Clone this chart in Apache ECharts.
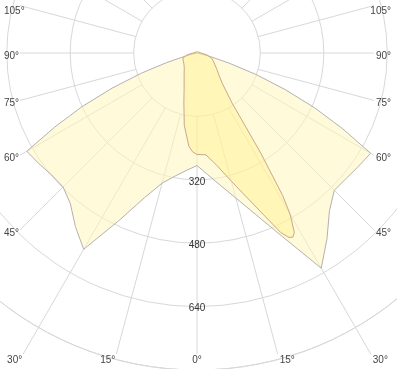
<!DOCTYPE html>
<html><head><meta charset="utf-8">
<script src="https://cdn.jsdelivr.net/npm/echarts@6/dist/echarts.min.js"></script>
<style>html,body{margin:0;padding:0;background:#fff}#c{width:397px;height:369px}</style>
</head><body><div id="c"></div>
<script>
// Signed gamma angles: negative = left half, positive = right half, 0 = nadir (bottom)
const wideAngles  = [-180,-150,-120,-90,-80,-77.5,-75,-72.5,-70,-67.5,-65,-62.5,-60,-55,-50,-45,-40,-35,-30,-25,-20,-15,-10,-5,0,5,10,15,20,25,30,35,40,45,50,55,60,62.5,65,67.5,70,72.5,75,77.5,80,90,120,150,180];
const wideValues  = [0,0,0,3,5,12,32,80,152,232,320,405,496,487,479,478,497,535,572,467,389,340,315,297,284,308,339,379,434,512,627,572,520,490,492,498,506,415,328,240,158,85,35,12,5,3,0,0,0];
const narrowAngles = [-180,-120,-90,-80,-70,-60,-50,-40,-30,-20,-15,-10,-5,-2.5,0,5,10,15,20,25,26.5,27.5,28.5,30,31,32.5,35,40,45,50,60,70,80,90,120,180];
const narrowValues = [3,5,10,25,38,40,43,50,65,95,128,185,236,250,256,258,288,335,400,500,520,524,515,470,420,300,155,98,78,66,50,40,25,10,5,3];
const radiusTickLabels = [320,480,640];
const angleTickLabels = [-105,-90,-75,-60,-45,-30,-15,0,15,30,45,60,75,90,105];
const spokeAngles = [0,15,30,45,60,75,90,105,120,135,150,165,180,195,210,225,240,255,270,285,300,315,330,345];

const toAxisAngle = a => (a < 0 ? a + 360 : a);
const wideData = wideAngles.map((a, i) => [wideValues[i], toAxisAngle(a)]);
const narrowData = narrowAngles.map((a, i) => [narrowValues[i], toAxisAngle(a)]);

const GRID = '#d8d8d8';
const FONT = 'Liberation Sans, Arial, sans-serif';

const chart = echarts.init(document.getElementById('c'), null, {renderer: 'canvas'});
chart.setOption({
  animation: false,
  backgroundColor: '#fff',
  polar: {center: [197, 53], radius: 317},
  angleAxis: {
    type: 'value', min: 0, max: 360, startAngle: 270, clockwise: false,
    axisLine: {show: true, lineStyle: {color: GRID, width: 1}},
    axisTick: {show: false}, axisLabel: {show: false}, splitLine: {show: false}
  },
  radiusAxis: {
    type: 'value', min: 0, max: 800, interval: 160,
    axisLine: {show: false}, axisTick: {show: false}, axisLabel: {show: false},
    splitLine: {show: true, lineStyle: {color: GRID, width: 1}}
  },
  series: [
    {type: 'line', coordinateSystem: 'polar', data: wideData, showSymbol: false, symbol: 'none',
     lineStyle: {color: '#b6b0b2', width: 1}, areaStyle: {color: 'rgb(255,246,185)', opacity: 0.55}, z: 2},
    {type: 'line', coordinateSystem: 'polar', data: narrowData, showSymbol: false, symbol: 'none',
     lineStyle: {color: '#c9a88e', width: 1}, areaStyle: {color: 'rgb(255,240,130)', opacity: 0.38}, z: 3}
  ]
});

// Grid spokes and labels, placed from the polar scale
const px = (r, a) => chart.convertToPixel({seriesIndex: 0}, [r, a]);
const c = px(0, 0);
const frame = {x0: 20, x1: 374, y0: -5, y1: 354};
function rayEnd(a) {
  const p = px(800, a);
  const dx = p[0] - c[0], dy = p[1] - c[1];
  let t = Infinity, side = '';
  if (dx < -1e-6) { const tt = (frame.x0 - c[0]) / dx; if (tt < t) { t = tt; side = 'L'; } }
  if (dx > 1e-6)  { const tt = (frame.x1 - c[0]) / dx; if (tt < t) { t = tt; side = 'R'; } }
  if (dy > 1e-6)  { const tt = (frame.y1 - c[1]) / dy; if (tt < t) { t = tt; side = 'B'; } }
  if (dy < -1e-6) { const tt = (frame.y0 - c[1]) / dy; if (tt < t) { t = tt; side = 'T'; } }
  return {x: c[0] + dx * t, y: c[1] + dy * t, side};
}
const elements = [];
spokeAngles.forEach(a => {
  const s = px(160, a), e = rayEnd(a);
  elements.push({type: 'line', z: 0, silent: true,
    shape: {x1: s[0], y1: s[1], x2: e.x, y2: e.y},
    style: {stroke: GRID, lineWidth: 1}});
});
angleTickLabels.forEach(g => {
  const e = rayEnd(toAxisAngle(g));
  let x, y, align;
  if (e.side === 'B') {
    y = 360;
    if (g < 0) { x = e.x - 1; align = 'right'; }
    else if (g > 0) { x = e.x + 2; align = 'left'; }
    else { x = e.x; align = 'center'; }
  } else if (e.side === 'L') { x = 4; y = Math.max(11, e.y + 3); align = 'left'; }
  else { x = 391; y = Math.max(11, e.y + 3); align = 'right'; }
  elements.push({type: 'text', z: 100, silent: true, x, y,
    style: {text: Math.abs(g) + '°', fill: '#444', font: '10px ' + FONT, textAlign: align, textVerticalAlign: 'middle'}});
});
radiusTickLabels.forEach(v => {
  const p = px(v, 0);
  elements.push({type: 'text', z: 100, silent: true, x: p[0], y: p[1] + 2,
    style: {text: String(v), fill: '#333', font: '10px ' + FONT, textAlign: 'center', textVerticalAlign: 'middle'}});
});
chart.setOption({graphic: {elements}});
</script></body></html>
